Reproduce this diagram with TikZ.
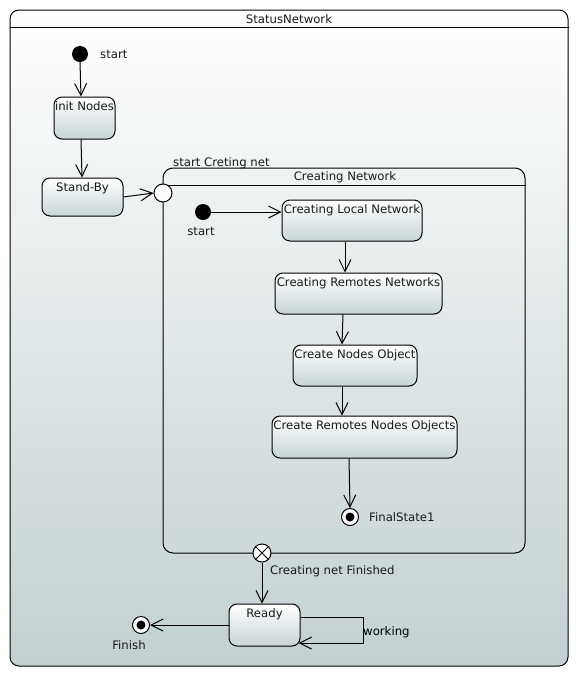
\documentclass[tikz,border=0pt]{standalone}
\usepackage{fontspec}
\setmainfont{DejaVu Sans}
\usetikzlibrary{arrows.meta,calc}

\definecolor{bgbottom}{HTML}{C3D0D1}
\definecolor{stbottom}{HTML}{C8D5D7}
\definecolor{ink}{HTML}{1A1A1A}

\tikzset{
  base/.style={line width=1pt, draw=black},
  state/.style={base, rectangle, rounded corners=8pt, top color=white, bottom color=stbottom, inner sep=0pt},
  statelbl/.style={anchor=north, inner sep=0pt, yshift=-4.5pt, text=ink, font=\fontsize{11.7}{14}\selectfont},
  lbl/.style={text=ink, font=\fontsize{11.7}{14}\selectfont, inner sep=0pt},
  initial/.style={circle, fill=black, minimum size=16pt, inner sep=0pt},
  finalst/.style={base, circle, fill=white, minimum size=17pt, inner sep=0pt, path picture={\fill[black] (path picture bounding box.center) circle (4.5pt);}},
  pseudo/.style={base, circle, fill=white, minimum size=18pt, inner sep=0pt},
  trans/.style={line width=1pt, -{Straight Barb[length=12pt,width=12pt,line width=1pt]}},
}

\begin{document}
\begin{tikzpicture}[x=1pt,y=-1pt]
\useasboundingbox (0,0) rectangle (579,678);

% outer region StatusNetwork
\node[base, rectangle, rounded corners=9pt, top color=white, bottom color=bgbottom,
      minimum width=558pt, minimum height=656pt, inner sep=0pt] (outer) at (289,338) {};
\draw[line width=1pt] ($(outer.north west)+(0,18)$) -- ($(outer.north east)+(0,18)$);
\node[lbl] (outertitle) at (289,19) {StatusNetwork};

% top-level states
\node[initial] (i0) at (80,54) {};
\node[lbl, anchor=west] (i0lbl) at (100,54) {start};
\node[state, minimum width=61pt, minimum height=42pt, label={[statelbl]north:init Nodes}] (init) at (84.5,118) {};
\node[state, minimum width=81pt, minimum height=38pt, label={[statelbl]north:Stand-By}] (standby) at (82.5,197) {};

% composite state Creating Network
\node[base, rectangle, rounded corners=10pt, minimum width=362pt, minimum height=385pt, inner sep=0pt] (cnet) at (344,360.5) {};
\draw[line width=1pt] ($(cnet.north west)+(0,18)$) -- ($(cnet.north east)+(0,18)$);
\node[lbl] (cnettitle) at (345,177) {Creating Network};

\node[pseudo] (entry) at (163,193) {};
\node[lbl, anchor=west] (entrylbl) at (173,163) {start Creting net};
\node[pseudo] (exitp) at (262,553) {};
\draw[line width=1pt] (exitp.north west) -- (exitp.south east);
\draw[line width=1pt] (exitp.north east) -- (exitp.south west);
\node[lbl, anchor=west] (exitlbl) at (270,571) {Creating net Finished};

% inner states
\node[initial] (i1) at (203,212) {};
\node[lbl] (i1lbl) at (201,231) {start};
\node[state, minimum width=140pt, minimum height=41pt, label={[statelbl]north:Creating Local Network}] (cln) at (352,220.5) {};
\node[state, minimum width=167pt, minimum height=41pt, label={[statelbl]north:Creating Remotes Networks}] (crn) at (358.5,293.5) {};
\node[state, minimum width=124pt, minimum height=41pt, label={[statelbl]north:Create Nodes Object}] (cno) at (355,365.5) {};
\node[state, minimum width=185pt, minimum height=42pt, label={[statelbl]north:Create Remotes Nodes Objects}] (crno) at (364.5,437) {};
\node[finalst] (f1) at (350,517) {};
\node[lbl, anchor=west] (f1lbl) at (369,517) {FinalState1};

% bottom states
\node[state, minimum width=71pt, minimum height=42pt, label={[statelbl]north:Ready}] (ready) at (264.5,625) {};
\node[finalst] (fin) at (141,625) {};
\node[lbl] (finlbl) at (129,645) {Finish};

% transitions
\draw[trans] (i0.south) -- ([xshift=-3.5pt]init.north);
\draw[trans] ([xshift=-3.5pt]init.south) -- ([xshift=-0.5pt]standby.north);
\draw[trans] (standby.east) -- (entry.west);
\draw[trans] (i1.east) -- (i1.east -| cln.west);
\draw[trans] ([xshift=-7pt]cln.south) -- ([xshift=-13.5pt]crn.north);
\draw[trans] ([xshift=-15.5pt]crn.south) -- ([xshift=-13pt]cno.north);
\draw[trans] ([xshift=-13pt]cno.south) -- ([xshift=-22.5pt]crno.north);
\draw[trans] ([xshift=-15.5pt]crno.south) -- (f1.north);
\draw[trans] (exitp.south) -- (ready.north -| exitp.south);
\draw[trans] (ready.west) -- (fin.east);
\draw[trans] ([yshift=8pt]ready.east) -- ++(63,0) -- ++(0,26) -- ([yshift=-18pt,xshift=-2pt]ready.east);
\node[lbl, anchor=west, text=black] (worklbl) at (363,632) {working};
\end{tikzpicture}
\end{document}
